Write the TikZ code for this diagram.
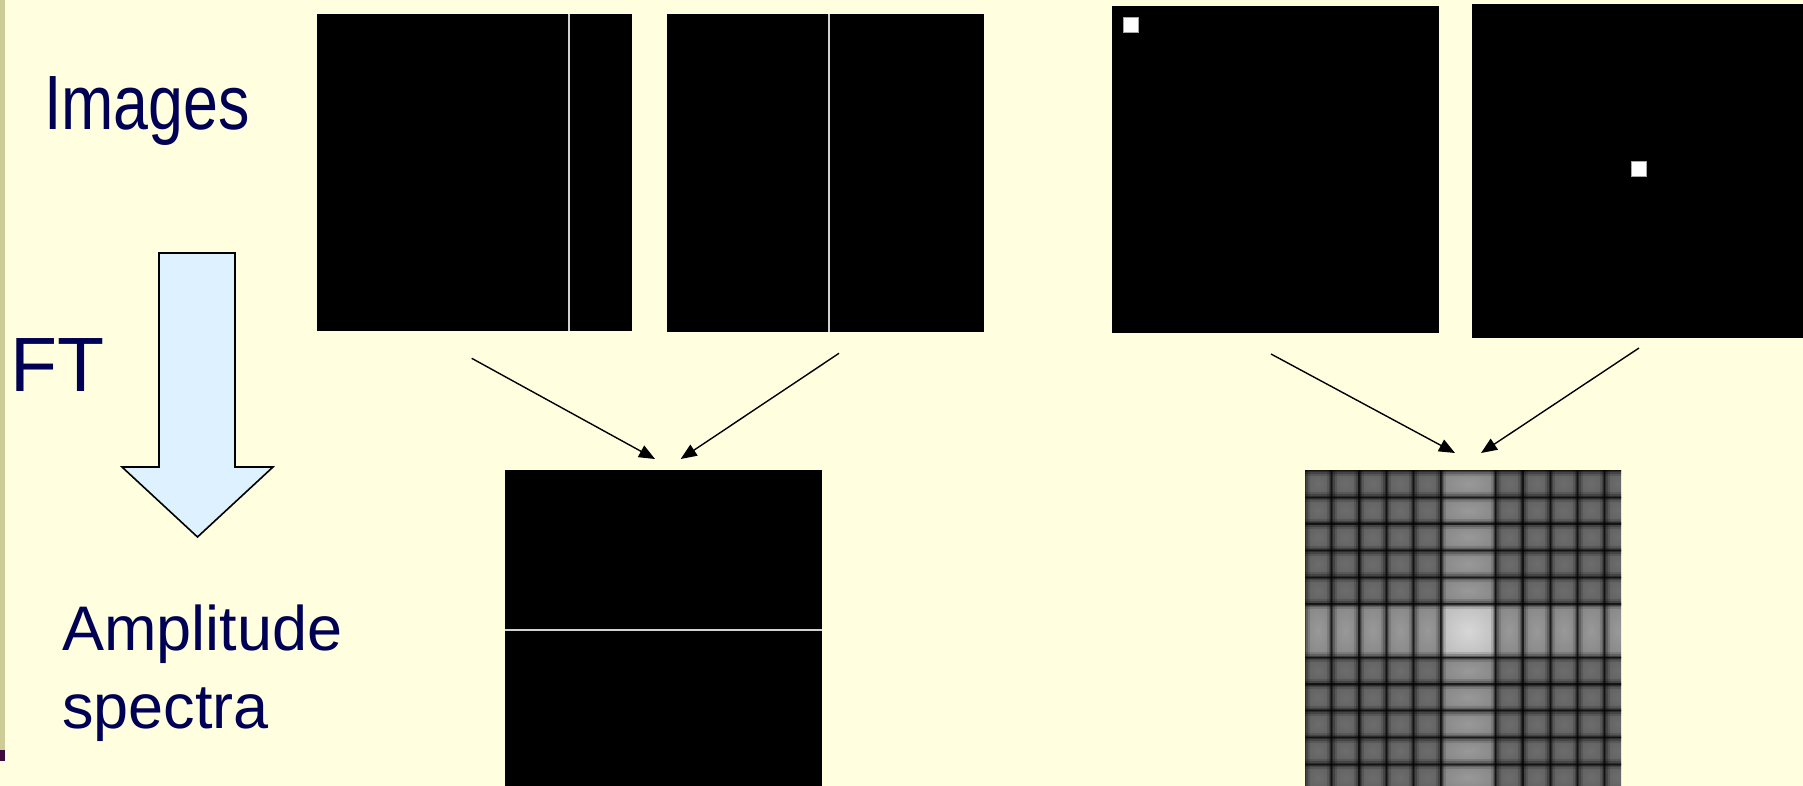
\documentclass[tikz,border=0pt]{standalone}
\usepackage{fontspec}
\setmainfont{Liberation Sans}
\usetikzlibrary{arrows.meta}
\definecolor{bgyellow}{RGB}{255,255,224}
\definecolor{stripcol}{RGB}{204,204,153}
\definecolor{purpcol}{RGB}{60,10,60}
\definecolor{navy}{RGB}{0,0,85}
\definecolor{ablue}{RGB}{222,241,255}
\begin{document}
\begin{tikzpicture}[x=1pt,y=-1pt,
  lbl/.style={text=navy, inner sep=0pt, anchor=base west},
  img/.style={fill=black, draw=none, inner sep=0pt, anchor=north west},
  wline/.style={draw=white!82!black, line width=1.7pt},
  arr/.style={-{Triangle[length=16pt,width=13pt]}, line width=1.4pt, draw=black},
  sq/.style={fill=white, draw=white!65!black, line width=0.7pt, inner sep=0pt, minimum size=15pt},
  blockarrow/.style={fill=ablue, draw=black, line width=1.6pt, line join=miter}
]
\fill[bgyellow] (0,0) rectangle (1803,786);
\useasboundingbox (0,0) rectangle (1803,786);
% left strip
\fill[stripcol] (0,0) rectangle (5,750);
\fill[purpcol] (0,750) rectangle (5,761);

% labels
\node[lbl, font=\fontsize{77}{90}\selectfont] (images) at (44,130) {\scalebox{0.815}[1]{Images}};
\node[lbl, font=\fontsize{77}{90}\selectfont] (ft) at (10,391) {FT};
\node[lbl, font=\fontsize{63}{78}\selectfont] (amp) at (62,650) {Amplitude};
\node[lbl, font=\fontsize{63}{78}\selectfont] (spec) at (62,728) {spectra};

% block arrow
\draw[blockarrow] (159,253) -- (235,253) -- (235,467) -- (273,467) -- (197.5,537) -- (122,467) -- (159,467) -- cycle;

% image panels
\node[img, minimum width=315pt, minimum height=317pt] (imgA) at (317,14) {};
\draw[wline] (569,14) -- (569,331);
\node[img, minimum width=317pt, minimum height=318pt] (imgB) at (667,14) {};
\draw[wline] (829,14) -- (829,332);
\node[img, minimum width=327pt, minimum height=327pt] (imgC) at (1112,6) {};
\node[sq] (dotC) at (1131,25) {};
\node[img, minimum width=340pt, minimum height=334pt] (imgD) at (1472,4) {};
\node[sq] (dotD) at (1639,169) {};

% spectrum 1
\node[img, minimum width=317pt, minimum height=320pt] (specA) at (505,470) {};
\draw[wline] (505,630.3) -- (822,630.3);

% spectrum 2
\def\xc{1468.3}\def\yc{630.7}\def\ddx{27.3}\def\ddy{26.7}
\begin{scope}
\clip (1305,470) rectangle (1621,790);
\fill[black] (1305,470) rectangle (1621,790);
\foreach \mx in {-5,...,5}{
  \foreach \my in {-5,...,5}{
    \pgfmathsetmacro\xl{\mx==0 ? \xc-\ddx : (\mx>0 ? \xc+\mx*\ddx : \xc+(\mx-1)*\ddx)}
    \pgfmathsetmacro\xr{\mx==0 ? \xc+\ddx : (\mx>0 ? \xc+(\mx+1)*\ddx : \xc+\mx*\ddx)}
    \pgfmathsetmacro\yt{\my==0 ? \yc-\ddy : (\my>0 ? \yc+\my*\ddy : \yc+(\my-1)*\ddy)}
    \pgfmathsetmacro\yb{\my==0 ? \yc+\ddy : (\my>0 ? \yc+(\my+1)*\ddy : \yc+\my*\ddy)}
    \pgfmathsetmacro\gx{\mx==0 ? 0.9 : 0.64}
    \pgfmathsetmacro\gy{\my==0 ? 0.9 : 0.64}
    \pgfmathsetmacro\vi{min(100,104*\gx*\gy)}
    \pgfmathsetmacro\vo{93*\gx*\gy}
    \shade[inner color=white!\vi!black, outer color=white!\vo!black] (\xl,\yt) rectangle (\xr,\yb);
  }
}
\foreach \k in {-6,...,-1,1,2,...,6}{
  \pgfmathsetmacro\xx{\xc+\k*\ddx}
  \pgfmathsetmacro\yy{\yc+\k*\ddy}
  \foreach \w/\o in {10/0.12,6/0.2,3/0.35,1.3/0.55}{
    \draw[black, opacity=\o, line width=\w pt] (\xx,460) -- (\xx,800);
    \draw[black, opacity=\o, line width=\w pt] (1295,\yy) -- (1630,\yy);
  }
}
\end{scope}
\node[draw=none, inner sep=0pt, minimum width=316pt, minimum height=320pt, anchor=north west] (specB) at (1305,470) {};

% connectors
\coordinate (a1s) at (471.7,358.3);
\coordinate (a1e) at (655,459);
\coordinate (a2s) at (839,353.3);
\coordinate (a2e) at (680.7,459);
\coordinate (a3s) at (1271,354);
\coordinate (a3e) at (1455,453);
\coordinate (a4s) at (1639,348);
\coordinate (a4e) at (1481,453);
\draw[arr] (a1s) -- (a1e);
\draw[arr] (a2s) -- (a2e);
\draw[arr] (a3s) -- (a3e);
\draw[arr] (a4s) -- (a4e);
\end{tikzpicture}
\end{document}
